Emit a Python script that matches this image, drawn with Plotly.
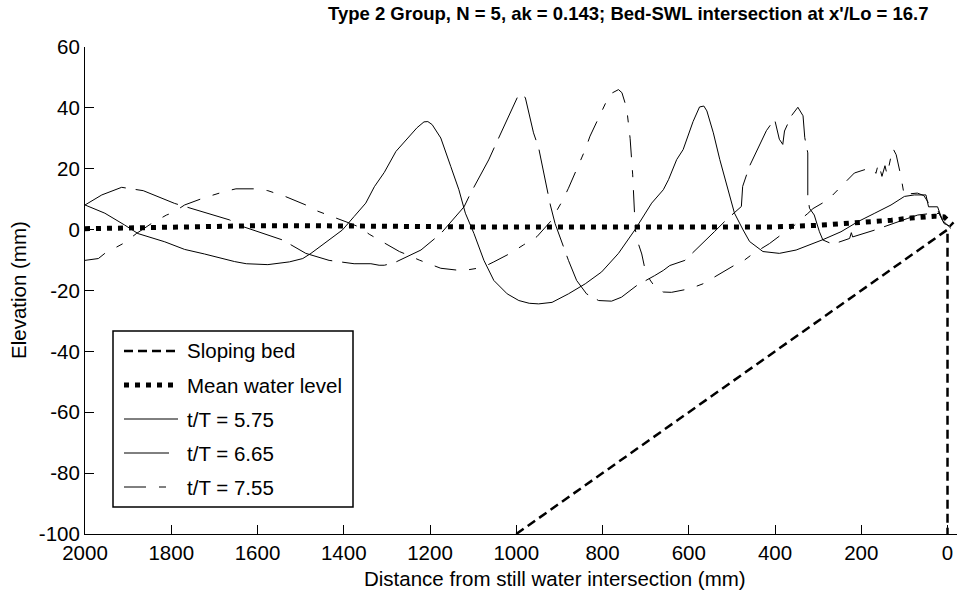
import plotly.graph_objects as go

# ---------------- data ----------------
bed_x = [1000, 0, 0]
bed_y = [-100, 0, -100]

mwl_x = [2000, 1900, 1800, 1700, 1600, 1500, 1400, 1300, 1200, 1100, 1000, 900, 800,
         700, 600, 500, 400, 300, 200, 130, 85, 30, 8, -12]
mwl_y = [0.3, 0.6, 0.8, 1.1, 1.3, 1.3, 1.1, 1.0, 1.0, 0.9, 0.9, 0.9, 0.8,
         0.8, 0.8, 0.8, 0.9, 1.4, 2.3, 3.1, 3.8, 4.4, 4.2, 1.5]

t575_x = [2000, 1954, 1908, 1877, 1815, 1769, 1723, 1653, 1626, 1576, 1526, 1495, 1476,
          1434, 1403, 1376, 1349, 1329, 1306, 1279, 1252, 1230, 1214, 1205, 1195, 1175,
          1152, 1133, 1118, 1098, 1075, 1052, 1021, 994, 970, 948, 917, 879, 840, 802,
          763, 725, 686, 659, 647, 628, 613, 590, 575, 565, 558, 543, 528, 505, 494, 474,
          459, 428, 390, 351, 324, 289, 247, 208, 170, 131, 100, 77, 50, 44, 23, 12, -8]
t575_y = [8.1, 5.4, 1.5, -1.3, -4.0, -6.5, -8.0, -10.5, -11.2, -11.5, -10.6, -9.5, -7.8,
          -3.4, -0.1, 4.3, 8.7, 14.1, 18.8, 25.7, 30.1, 33.5, 35.4, 35.5, 34.5, 30.1,
          20.8, 13.1, 5.4, -1.3, -10.1, -16.7, -21.1, -23.3, -24.2, -24.4, -23.9, -21.1,
          -17.8, -13.9, -7.8, -0.1, 8.7, 13.1, 16.4, 23.0, 26.3, 35.5, 40.3, 40.6, 39.0,
          31.8, 23.0, 10.9, 5.4, -0.1, -3.9, -7.2, -7.8, -6.7, -5.3, -3.3, -0.7, 2.6, 5.3,
          8.1, 10.9, 11.4, 11.4, 7.5, 7.5, 3.1, 0.4]

t665_x = [2000, 1961, 1915, 1865, 1792, 1746, 1692, 1665, 1634, 1588, 1542, 1488, 1461,
          1434, 1376, 1337, 1318, 1306, 1283, 1252, 1221, 1175, 1121, 1106, 1064, 1048,
          1010, 994, 979, 960, 948, 929, 921, 910, 879, 860, 837, 809, 779, 756, 721, 679,
          659, 644, 609, 540, 513, 478, 475, 459, 420, 401, 390, 382, 378, 362, 347, 335,
          331, 324, 324, 320, 309, 297, 289, 266, 227, 223, 220, 170, 123, 92, 69, 39, 19,
          8, -8]
t665_y = [8.1, 11.4, 13.9, 12.8, 8.6, 6.7, 4.3, 3.2, 1.0, -1.3, -3.4, -7.8, -8.9,
          -10.1, -11.2, -11.2, -11.7, -11.7, -10.9, -8.9, -6.7, -1.3, 7.5, 11.9, 22.9, 27.9,
          40.0, 44.5, 43.4, 31.8, 26.8, 13.1, 8.1, 2.0, -10.1, -16.7, -21.1, -23.3, -23.5,
          -22.2, -18.4, -15.1, -13.4, -11.8, -10.1, -0.6, 3.2, 7.6, 14.2, 20.9, 32.5, 36.3,
          29.7, 28.0, 32.4, 37.4, 40.2, 37.4, 30.2, 25.2, 10.9, 7.0, 4.8, -0.7, -3.4, -4.8,
          -2.9, -1.0, -2.4, -0.2, 2.0, 3.7, 4.8, 5.3, 5.3, 2.0, 1.0]

t755_x = [2000, 1969, 1954, 1923, 1908, 1881, 1846, 1811, 1796, 1769, 1727, 1677, 1650,
          1603, 1576, 1534, 1503, 1488, 1461, 1419, 1384, 1365, 1341, 1318, 1298, 1271,
          1252, 1225, 1175, 1125, 1090, 1075, 1052, 1014, 983, 952, 921, 902, 894, 879,
          860, 844, 840, 829, 783, 763, 755, 744, 736, 730, 726, 724, 716, 709, 703, 690,
          675, 659, 640, 613, 597, 567, 528, 494, 482, 451, 413, 382, 370, 343, 324, 312,
          277, 247, 216, 181, 173, 166, 160, 152, 145, 140, 127, 119, 108, 100, 85, 70,
          55, 45, 35, 23, 12, 0, -8]
t755_y = [-10.1, -9.5, -7.8, -5.6, -4.3, -1.3, 2.0, 4.8, 5.6, 8.1, 10.3, 12.5, 13.4,
          13.4, 12.8, 10.8, 9.0, 8.1, 6.1, 4.0, 2.0, 0.9, -1.5, -3.4, -5.0, -7.2,
          -8.3, -10.0, -12.7, -13.5, -12.7, -12.2, -10.6, -7.8, -5.0, -2.3, 2.6, 7.0, 9.2,
          13.6, 19.6, 24.6, 26.3, 30.7, 44.5, 46.0, 45.0, 39.9, 30.0, 18.0, 8.0, 0.0, -5.0,
          -8.0, -12.0, -16.5, -19.5, -20.5, -20.6, -20.0, -19.4, -17.8, -14.5, -11.7, -11.2,
          -7.9, -4.6, -1.3, -0.7, 3.1, 5.3, 6.9, 9.8, 14.1, 18.6, 20.2, 20.2, 18.5, 21.8,
          17.5, 21.0, 18.0, 26.8, 24.6, 17.5, 10.9, 11.8, 12.0, 11.2, 9.0, 7.5, 6.5, 3.0,
          1.5, 1.0]

legend_labels = ["Sloping bed", "Mean water level", "t/T = 5.75", "t/T = 6.65", "t/T = 7.55"]

title_text = "Type 2 Group, N = 5, ak = 0.143; Bed-SWL intersection at x'/Lo = 16.7"
xlabel = "Distance from still water intersection (mm)"
ylabel = "Elevation (mm)"
x_ticks = list(range(0, 2001, 200))
y_ticks = list(range(-100, 61, 20))

# ---------------- styles ----------------
FONT = "Liberation Sans, Arial, Helvetica, sans-serif"
FS = 20.5
styles = [
    dict(color="black", width=2.5, dash="9px,5px"),
    dict(color="black", width=5, dash="5px,6px"),
    dict(color="black", width=1, dash="solid"),
    dict(color="black", width=1, dash="45px,10px"),
    dict(color="black", width=1, dash="22px,13px,7px,13px"),
]

W, H = 957, 590
L, R, T, B = 85, 0, 47, 56
PW, PH = W - L - R, H - T - B

def px(xr):
    return (xr - L) / PW

def py(yr):
    return (H - B - yr) / PH

fig = go.Figure()
series = [(bed_x, bed_y), (mwl_x, mwl_y), (t575_x, t575_y), (t665_x, t665_y), (t755_x, t755_y)]
for (xs, ys), st, name in zip(series, styles, legend_labels):
    fig.add_trace(go.Scatter(x=xs, y=ys, mode="lines", line=st, name=name,
                             showlegend=False, hoverinfo="skip"))

# manual legend (MATLAB style)
shapes = [dict(type="rect", xref="paper", yref="paper",
               x0=px(113), x1=px(353), y0=py(507), y1=py(331),
               line=dict(color="black", width=1.5), fillcolor="white", layer="above")]
annotations = []
row_y = [351, 385, 419, 453, 487]
for ry, st, lab in zip(row_y, styles, legend_labels):
    shapes.append(dict(type="line", xref="paper", yref="paper",
                       x0=px(124), x1=px(178), y0=py(ry), y1=py(ry),
                       line=st, layer="above"))
    annotations.append(dict(text=lab, xref="paper", yref="paper", x=px(185), y=py(ry),
                            xanchor="left", yanchor="middle", showarrow=False,
                            font=dict(family=FONT, size=FS, color="black")))

annotations.append(dict(text="<b>" + title_text + "</b>", xref="paper", yref="paper",
                        x=px(628), y=py(14), xanchor="center", yanchor="middle",
                        showarrow=False, font=dict(family=FONT, size=18.5, color="black")))
annotations.append(dict(text=xlabel, xref="paper", yref="paper", x=px(555), y=py(578),
                        xanchor="center", yanchor="middle", showarrow=False,
                        font=dict(family=FONT, size=FS, color="black")))
annotations.append(dict(text=ylabel, xref="paper", yref="paper", x=px(18), y=py(290),
                        xanchor="center", yanchor="middle", showarrow=False, textangle=-90,
                        font=dict(family=FONT, size=FS, color="black")))

fig.update_layout(
    width=W, height=H,
    margin=dict(l=L, r=R, t=T, b=B, pad=0),
    paper_bgcolor="white", plot_bgcolor="white",
    shapes=shapes, annotations=annotations,
    showlegend=False,
    xaxis=dict(range=[2000, -22], tickvals=x_ticks, ticktext=[str(v) for v in x_ticks],
               showgrid=False, zeroline=False, showline=True, linecolor="black", linewidth=1,
               ticks="inside", ticklen=9, tickcolor="black",
               tickfont=dict(family=FONT, size=FS, color="black")),
    yaxis=dict(range=[-100, 60], tickvals=y_ticks, ticktext=[str(v) for v in y_ticks],
               showgrid=False, zeroline=False, showline=True, linecolor="black", linewidth=1,
               ticks="inside", ticklen=9, tickcolor="black",
               tickfont=dict(family=FONT, size=FS, color="black")),
)

fig.write_html("out.html", config={"displayModeBar": False})
